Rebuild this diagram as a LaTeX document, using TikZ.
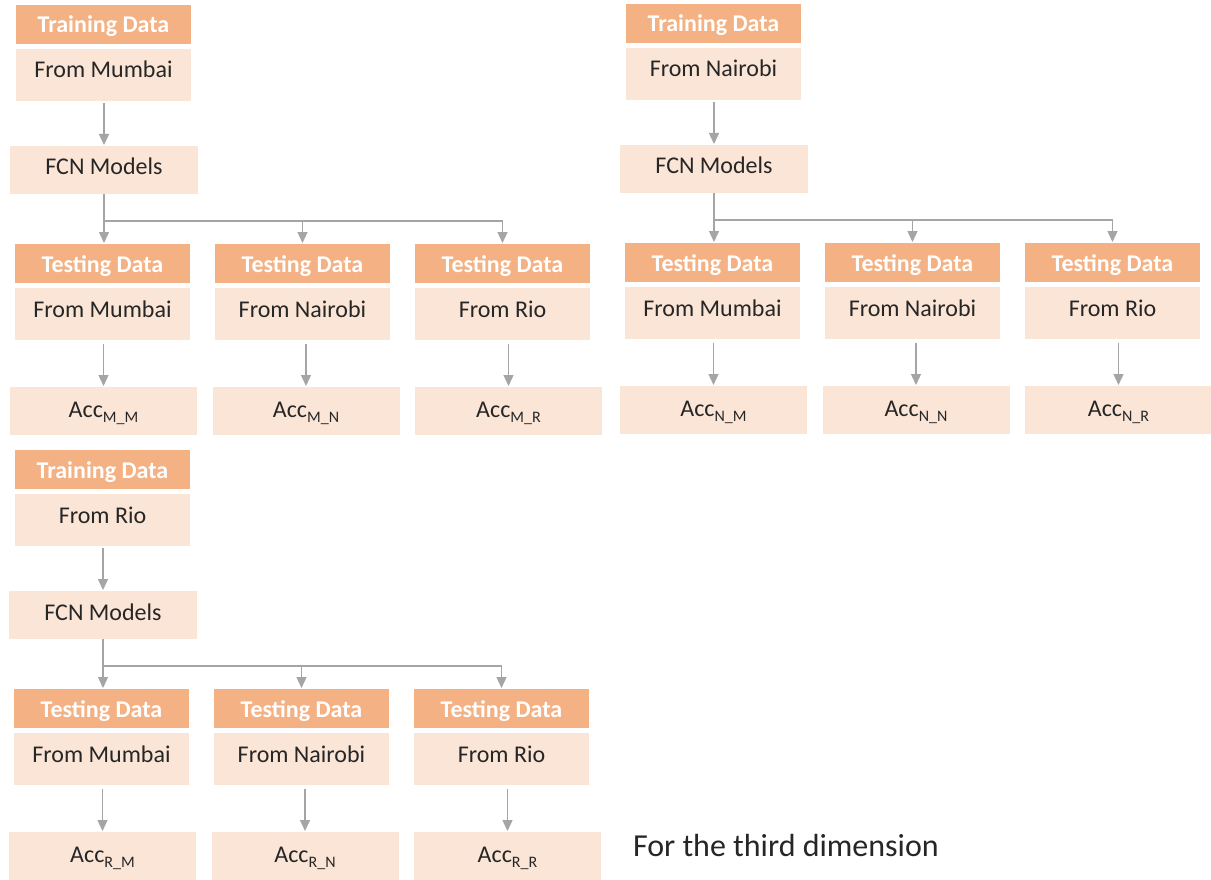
\documentclass[tikz,border=0pt]{standalone}
\usepackage{fontspec}
\setmainfont{Carlito}
\usetikzlibrary{arrows.meta}
\definecolor{hdr}{HTML}{F4B183}
\definecolor{bdy}{HTML}{FBE5D6}
\definecolor{lnk}{HTML}{A5A5A5}
\definecolor{ink}{HTML}{262626}
\newcommand\accsub[1]{\raisebox{-5pt}{\fontsize{16}{16}\selectfont #1}}
\tikzset{
  base/.style={inner sep=0pt, outer sep=0pt, text=ink, font=\fontsize{24}{28}\selectfont},
  head/.style={base, fill=hdr, text=white, font=\fontsize{24}{28}\selectfont\bfseries,
    minimum width=175pt, text height=28pt, text depth=11pt, anchor=north},
  body/.style={base, fill=bdy, minimum width=175pt, text height=29pt, text depth=23pt, anchor=north},
  model/.style={base, fill=bdy, minimum width=188pt, text height=29pt, text depth=19pt, anchor=north},
  accbox/.style={base, fill=bdy, minimum width=187pt, text height=30pt, text depth=18pt, anchor=north},
  link/.style={draw=lnk, line width=1.3pt, -{Triangle[width=10pt,length=11pt]}},
}
% One training city: training data, FCN models, three test cities and their accuracies
\newcommand\cityblock[4]{%
  \begin{scope}[shift={#2}]
    \node[head] (#1th) at (103.5,5) {Training Data};
    \node[body] (#1tb) at (103.5,49) {From #3};
    \node[model] (#1fcn) at (104,146) {FCN Models};
    \draw[link, shorten <=2pt, shorten >=1pt] (#1tb.south -| #1fcn.north) -- (#1fcn.north);
    \coordinate (#1br) at (104,221);
    \foreach \i/\hx/\ax/\city/\lt in {1/102.5/103.5/Mumbai/M,2/302.5/306/Nairobi/N,3/502.5/508.5/Rio/R}{
      \node[head] (#1h\i) at (\hx,244) {Testing Data};
      \node[body] (#1b\i) at (\hx,288) {From \city};
      \node[accbox] (#1a\i) at (\ax,387) {Acc\accsub{#4\_\lt}};
      \draw[link, shorten <=4pt, shorten >=1pt] (#1b\i.south -| #1a\i.north) -- (#1a\i.north);
    }
    \draw[link, shorten >=1pt] (#1fcn.south) -- (#1fcn.south |- #1h1.north);
    \draw[link, shorten >=1pt] (#1br) -| (#1h2.north);
    \draw[link, shorten >=1pt] (#1br) -| (#1h3.north);
  \end{scope}}
\begin{document}
\begin{tikzpicture}[x=1pt, y=-1pt]
  \fill[white] (0,0) rectangle (1211,880);
  \useasboundingbox (0,0) rectangle (1211,880);
  \cityblock{m}{(0,0)}{Mumbai}{M}
  \cityblock{n}{(610,-1)}{Nairobi}{N}
  \cityblock{r}{(-1,445)}{Rio}{R}
  \node[base, font=\fontsize{32}{38}\selectfont, anchor=west] (note) at (633,846) {For the third dimension};
\end{tikzpicture}
\end{document}
